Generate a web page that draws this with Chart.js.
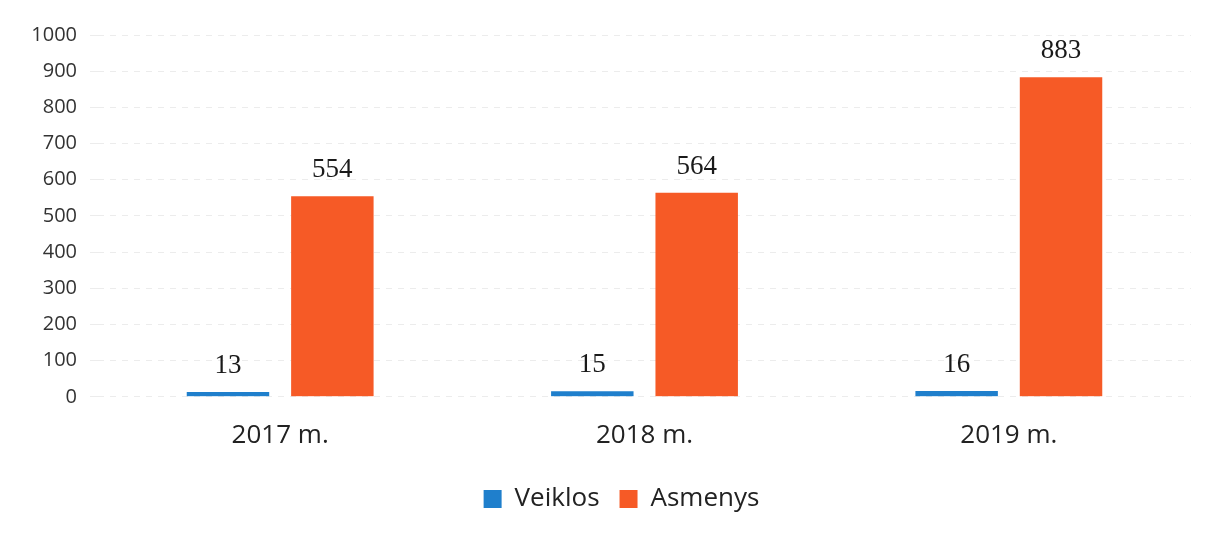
<!DOCTYPE html>
<html>
<head>
<meta charset="utf-8">
<script src="https://cdn.jsdelivr.net/npm/chart.js@4.4.0/dist/chart.umd.min.js"></script>
<style>
  body { margin: 0; background: #fff; }
  #wrap { width: 1208px; height: 536px; }
</style>
</head>
<body>
<div id="wrap"><canvas id="myChart"></canvas></div>
<script>
let years = ["2017 m.", "2018 m.", "2019 m."];
let veiklos = [13, 15, 16];
let asmenys = [554, 564, 883];
let yTicks = [0, 100, 200, 300, 400, 500, 600, 700, 800, 900, 1000];

// numbers above bars
let barLabels = {
  id: "barLabels",
  afterDatasetsDraw(chart) {
    let ctx = chart.ctx;
    ctx.save();
    ctx.font = "27px 'Liberation Serif', 'Times New Roman', serif";
    ctx.fillStyle = "#1a1a1a";
    ctx.textAlign = "center";
    ctx.textBaseline = "alphabetic";
    chart.data.datasets.forEach(function (ds, i) {
      chart.getDatasetMeta(i).data.forEach(function (bar, j) {
        ctx.fillText(ds.data[j], bar.x, bar.y - 19);
      });
    });
    ctx.restore();
  }
};

// legend sits a bit right of page centre in the original
let legendShift = {
  id: "legendShift",
  afterLayout(chart) {
    if (chart.legend) {
      chart.legend.left += 21;
      chart.legend.right += 21;
    }
  }
};

new Chart("myChart", {
  type: "bar",
  data: {
    labels: years,
    datasets: [
      { label: "Veiklos", data: veiklos, backgroundColor: "#1f7fcc" },
      { label: "Asmenys", data: asmenys, backgroundColor: "#f65a26" }
    ]
  },
  options: {
    responsive: true,
    maintainAspectRatio: false,
    animation: false,
    categoryPercentage: 0.573,
    barPercentage: 0.79,
    layout: { padding: { top: 35, right: 17, left: 10, bottom: 14 } },
    plugins: {
      legend: {
        position: "bottom",
        labels: {
          font: { size: 26, family: "'Open Sans', sans-serif" },
          color: "#222",
          boxWidth: 18,
          boxHeight: 18,
          padding: 20
        }
      },
      tooltip: { enabled: false }
    },
    scales: {
      x: {
        grid: { display: false },
        border: { display: false },
        ticks: {
          font: { size: 26, family: "'Open Sans', sans-serif" },
          color: "#222",
          padding: 15
        }
      },
      y: {
        min: 0,
        max: 1000,
        afterBuildTicks(axis) {
          axis.ticks = yTicks.map(function (v) { return { value: v }; });
        },
        afterFit(axis) { axis.width = 88; },
        grid: { color: "#ececec", lineWidth: 1 },
        border: { display: false, dash: [6, 6] },
        ticks: {
          font: { size: 20, family: "'Open Sans', sans-serif" },
          color: "#333",
          padding: 13,
          callback: function (v) { return String(v); }
        }
      }
    }
  },
  plugins: [barLabels, legendShift]
});
</script>
</body>
</html>
